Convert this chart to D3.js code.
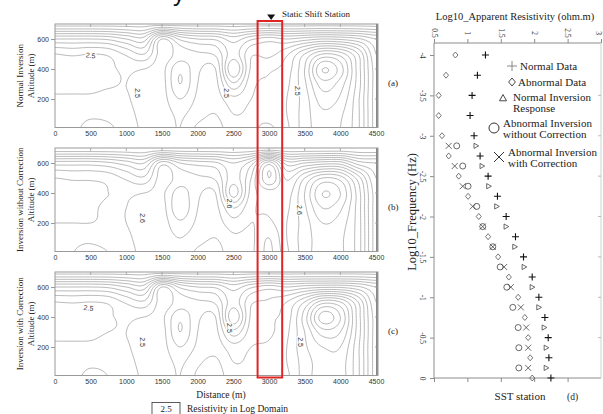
<!DOCTYPE html>
<html><head><meta charset="utf-8">
<script src="https://cdn.jsdelivr.net/npm/d3@7/dist/d3.min.js"></script>
<style>body{margin:0;background:#fff}svg{display:block}</style>
</head><body>
<svg id="c" width="603" height="414"></svg>
<script>
// ---------- data: contour sections ----------
const distanceTicks = [0,500,1000,1500,2000,2500,3000,3500,4000,4500];
const altitudeTicks = [200,400,600];
const gridDistances = [0,250,500,750,1000,1250,1500,1750,2000,2250,2500,2750,3000,3250,3500,3750,4000,4250,4500];
const gridAltitudes = [700,600,500,400,300,200,100,0];
const contourLevels = [1.7,1.8,1.9,2.0,2.1,2.2,2.3,2.4,2.5,2.6,2.7,2.8,2.9,3.0,3.1,3.2,3.3];
const panelTitles = ["Normal Inversion","Inversion without Correction","Inversion with Correction"];
const panelTags = ["(a)","(b)","(c)"];

const gridNormal = [
 [3.35,3.35,3.35,3.35,3.35,3.35,3.35,3.35,3.35,3.35,3.35,3.35,3.35,3.35,3.35,3.35,3.35,3.35,3.35],
 [2.80,2.80,2.80,2.82,2.90,2.95,2.50,2.72,2.80,2.82,2.95,2.82,2.75,2.80,2.75,2.70,2.72,2.78,2.90],
 [2.50,2.52,2.50,2.52,2.62,2.70,2.45,2.55,2.58,2.62,2.85,2.62,2.63,2.52,2.30,2.10,2.15,2.40,2.80],
 [2.45,2.44,2.46,2.48,2.52,2.50,2.47,2.68,2.52,2.50,3.00,2.58,2.52,2.45,2.20,1.80,1.95,2.35,2.75],
 [2.46,2.46,2.47,2.49,2.50,2.46,2.46,2.70,2.50,2.47,2.78,2.53,2.48,2.42,2.22,1.95,2.05,2.35,2.75],
 [2.52,2.52,2.52,2.53,2.51,2.46,2.46,2.60,2.48,2.45,2.57,2.50,2.47,2.40,2.25,2.05,2.12,2.38,2.75],
 [2.56,2.56,2.58,2.57,2.53,2.47,2.45,2.52,2.44,2.40,2.50,2.48,2.46,2.40,2.25,2.12,2.18,2.38,2.75],
 [2.58,2.58,2.63,2.62,2.55,2.48,2.45,2.50,2.38,2.36,2.46,2.48,2.52,2.42,2.25,2.15,2.20,2.38,2.75]
];
const gridUncorrected = [
 [3.40,3.40,3.40,3.40,3.40,3.40,3.40,3.40,3.40,3.40,3.40,3.40,3.40,3.40,3.40,3.40,3.40,3.40,3.40],
 [2.85,2.85,2.85,2.88,2.95,3.00,2.65,2.80,2.85,2.88,3.00,2.85,2.45,2.85,2.80,2.75,2.75,2.95,3.00],
 [2.60,2.62,2.62,2.64,2.72,2.78,2.55,2.65,2.68,2.72,2.95,2.70,2.30,2.62,2.40,2.20,2.25,2.55,2.90],
 [2.55,2.55,2.57,2.60,2.62,2.60,2.58,2.75,2.62,2.60,3.05,2.66,2.55,2.55,2.30,2.00,2.10,2.45,2.85],
 [2.52,2.55,2.58,2.62,2.60,2.56,2.56,2.78,2.60,2.57,2.80,2.62,2.58,2.52,2.32,2.10,2.18,2.45,2.85],
 [2.60,2.60,2.60,2.62,2.60,2.55,2.55,2.68,2.58,2.55,2.66,2.60,2.62,2.50,2.35,2.20,2.25,2.45,2.85],
 [2.68,2.68,2.68,2.66,2.62,2.56,2.55,2.60,2.54,2.50,2.58,2.58,2.70,2.50,2.35,2.25,2.28,2.45,2.85],
 [2.70,2.70,2.72,2.70,2.64,2.57,2.55,2.58,2.48,2.46,2.56,2.58,2.72,2.52,2.35,2.25,2.28,2.45,2.85]
];
const gridCorrected = [
 [3.35,3.35,3.35,3.35,3.35,3.35,3.35,3.35,3.35,3.35,3.35,3.35,3.35,3.35,3.35,3.35,3.35,3.35,3.35],
 [2.80,2.80,2.80,2.82,2.90,2.95,2.50,2.72,2.80,2.82,2.95,2.82,2.75,2.80,2.75,2.72,2.72,2.78,2.90],
 [2.50,2.51,2.50,2.52,2.62,2.68,2.45,2.55,2.58,2.62,2.85,2.62,2.58,2.50,2.30,2.05,2.10,2.40,2.80],
 [2.46,2.45,2.47,2.49,2.52,2.50,2.48,2.68,2.52,2.50,2.98,2.58,2.52,2.45,2.15,1.75,1.90,2.35,2.75],
 [2.47,2.47,2.48,2.50,2.50,2.46,2.46,2.70,2.50,2.47,2.76,2.55,2.52,2.42,2.20,1.95,2.00,2.35,2.75],
 [2.52,2.52,2.52,2.53,2.51,2.46,2.46,2.60,2.48,2.44,2.56,2.50,2.48,2.40,2.22,2.10,2.10,2.38,2.75],
 [2.55,2.56,2.58,2.57,2.53,2.47,2.45,2.52,2.42,2.38,2.50,2.48,2.45,2.40,2.25,2.15,2.15,2.38,2.75],
 [2.58,2.58,2.62,2.60,2.55,2.48,2.45,2.50,2.38,2.35,2.46,2.48,2.45,2.42,2.25,2.15,2.15,2.38,2.75]
];
// contour labels: [distance, altitude, text, angle]
const labelsNormal = [[500,490,"2.5",8],[1150,240,"2.5",90],[2400,240,"2.5",90],[3400,255,"2.5",90]];
const labelsUncorrected = [[1230,233,"2.6",90],[2440,330,"2.6",90],[3420,287,"2.6",90]];
const labelsCorrected = [[470,460,"2.5",8],[1220,233,"2.5",90],[2440,327,"2.5",90],[3440,233,"2.5",90]];
const stationDistance = 3030;
const stationBox = [2840,3185];

// ---------- data: SST station sounding ----------
const freqData = [-4,-3.75,-3.5,-3.25,-3,-2.75,-2.5,-2.25,-2,-1.75,-1.5,-1.25,-1,-0.75,-0.5,-0.25,0];
const normalData = [1.27,1.15,1.07,1.04,1.10,1.19,1.31,1.45,1.58,1.72,1.84,1.97,2.07,2.16,2.21,2.22,2.25];
const abnormalData = [0.82,0.68,0.57,0.57,0.62,0.72,0.87,1.01,1.17,1.31,1.46,1.62,1.76,1.86,1.91,1.94,1.97];
const freqInv = [-2.875,-2.625,-2.375,-2.125,-1.875,-1.625,-1.375,-1.125,-0.875,-0.625,-0.375,-0.125];
const normalInversion = [1.13,1.22,1.32,1.44,1.58,1.71,1.85,1.97,2.07,2.15,2.18,2.18];
const abnormalNoCorr = [0.84,0.93,1.01,1.14,1.23,1.38,1.49,1.59,1.68,1.76,1.77,1.77];
const abnormalCorr = [0.72,0.81,0.93,1.08,1.23,1.38,1.55,1.65,1.80,1.88,1.91,1.91];
const resTicks = [0.5,1,1.5,2,2.5,3];
const freqTicks = [-4,-3.5,-3,-2.5,-2,-1.5,-1,-0.5,0];

// ---------- drawing ----------
const svg = d3.select("#c");
const SERIF = "'Liberation Serif','Times New Roman',serif";
const SANS = "'Liberation Sans',Arial,sans-serif";
const defs = svg.append("defs");

// cut-off title glyph at the very top
svg.append("text").attr("x",173).attr("y",1).attr("font-family",SANS).attr("font-size",24).attr("fill","#111").text("y");

const x = d3.scaleLinear().domain([0,4500]).range([55,376]);

function cr(p0,p1,p2,p3,t){return 0.5*((2*p1)+(-p0+p2)*t+(2*p0-5*p1+4*p2-p3)*t*t+(-p0+3*p1-3*p2+p3)*t*t*t);}
function bicubic(grid,gx,gy){
  const nr=grid.length,nc=grid[0].length;
  const i=Math.min(Math.floor(gx),nc-2), j=Math.min(Math.floor(gy),nr-2);
  const tx=gx-i, ty=gy-j;
  const g=(r,c)=>grid[Math.max(0,Math.min(nr-1,r))][Math.max(0,Math.min(nc-1,c))];
  const rows=[-1,0,1,2].map(dr=>cr(g(j+dr,i-1),g(j+dr,i),g(j+dr,i+1),g(j+dr,i+2),tx));
  return cr(rows[0],rows[1],rows[2],rows[3],ty);
}

const panelGrids=[gridNormal,gridUncorrected,gridCorrected];
const panelLabels=[labelsNormal,labelsUncorrected,labelsCorrected];
const F=10;
panelGrids.forEach((grid,p)=>{
  const off=124*p;
  const y=d3.scaleLinear().domain([0,700]).range([129+off,24+off]);
  const top=y(700), bot=y(10), left=x(0), right=x(4500)+2;
  const clipId="clip"+p;
  defs.append("clipPath").attr("id",clipId).append("rect")
    .attr("x",left).attr("y",top).attr("width",right-left).attr("height",bot-top);
  const nc=gridDistances.length, nr=gridAltitudes.length;
  const fw=(nc-1)*F+1, fh=(nr-1)*F+1;
  const vals=new Float64Array(fw*fh);
  for(let j=0;j<fh;j++)for(let i=0;i<fw;i++)vals[j*fw+i]=bicubic(grid,i/F,j/F);
  const dStep=(gridDistances[1]-gridDistances[0])/F, aStep=(gridAltitudes[0]-gridAltitudes[1])/F;
  const conts=d3.contours().size([fw,fh]).thresholds(contourLevels)(vals);
  const line=d3.line().x(pt=>x((pt[0]-0.5)*dStep)).y(pt=>y(gridAltitudes[0]-(pt[1]-0.5)*aStep));
  const g=svg.append("g").attr("clip-path",`url(#${clipId})`);
  conts.forEach(c=>{
    c.coordinates.forEach(poly=>poly.forEach(ring=>{
      g.append("path").attr("d",line(ring)+"Z").attr("fill","none")
        .attr("stroke","#8a8a8a").attr("stroke-width",0.6);
    }));
  });
  // contour labels
  panelLabels[p].forEach(l=>{
    svg.append("text").attr("transform",`translate(${x(l[0])},${y(l[1])}) rotate(${l[3]})`)
      .attr("text-anchor","middle").attr("dy","0.35em").attr("font-family",SANS).attr("font-size",7)
      .attr("fill","#333").attr("stroke","#fff").attr("stroke-width",2.5).attr("paint-order","stroke").text(l[2]);
  });
  // frame
  svg.append("rect").attr("x",left).attr("y",top).attr("width",right-left).attr("height",bot-top)
    .attr("fill","none").attr("stroke","#9a9a9a").attr("stroke-width",1);
  // inner ticks on top and right
  distanceTicks.slice(1,-1).forEach(d=>{
    svg.append("line").attr("x1",x(d)).attr("x2",x(d)).attr("y1",top).attr("y2",top+3).attr("stroke","#9a9a9a").attr("stroke-width",0.8);
  });
  altitudeTicks.forEach(a=>{
    svg.append("line").attr("x1",right).attr("x2",right-3).attr("y1",y(a)).attr("y2",y(a)).attr("stroke","#9a9a9a").attr("stroke-width",0.8);
  });
  // axes
  const ax=svg.append("g").attr("transform",`translate(0,${bot})`)
    .call(d3.axisBottom(x).tickValues(distanceTicks).tickSize(0).tickPadding(4).tickFormat(d3.format("d")));
  ax.select(".domain").remove();
  ax.selectAll("text").attr("font-family",SANS).attr("font-size",7).attr("fill","#333");
  const ay=svg.append("g").attr("transform",`translate(${left},0)`)
    .call(d3.axisLeft(y).tickValues(altitudeTicks).tickSize(4).tickPadding(2));
  ay.select(".domain").remove();
  ay.selectAll("line").attr("stroke","#9a9a9a");
  ay.selectAll("text").attr("font-family",SANS).attr("font-size",7).attr("fill","#333");
  // titles
  const cy=(top+bot)/2;
  svg.append("text").attr("transform",`translate(23,${cy}) rotate(-90)`).attr("text-anchor","middle")
    .attr("font-family",SERIF).attr("font-size",9).attr("fill","#222").text(panelTitles[p]);
  svg.append("text").attr("transform",`translate(34,${cy}) rotate(-90)`).attr("text-anchor","middle")
    .attr("font-family",SERIF).attr("font-size",9).attr("fill","#222").text("Altitude (m)");
  svg.append("text").attr("x",388).attr("y",cy+10).attr("font-family",SERIF).attr("font-size",9).attr("fill","#222").text(panelTags[p]);
});

// station marker and box
const sx=x(stationDistance);
svg.append("path").attr("d",`M${sx-4},14.5L${sx+4},14.5L${sx},20Z`).attr("fill","#111");
svg.append("text").attr("x",282).attr("y",17).attr("font-family",SERIF).attr("font-size",9).attr("fill","#222").text("Static Shift Station");
svg.append("rect").attr("x",x(stationBox[0])).attr("y",21).attr("width",x(stationBox[1])-x(stationBox[0])).attr("height",356.5)
  .attr("fill","none").attr("stroke","#e02424").attr("stroke-width",2);

svg.append("text").attr("x",221).attr("y",398).attr("text-anchor","middle").attr("font-family",SERIF).attr("font-size",9.5).attr("fill","#222").text("Distance (m)");
svg.append("rect").attr("x",152).attr("y",402.5).attr("width",28).attr("height",14).attr("fill","none").attr("stroke","#333").attr("stroke-width",0.8);
svg.append("text").attr("x",166).attr("y",412).attr("text-anchor","middle").attr("font-family",SERIF).attr("font-size",9).attr("fill","#222").text("2.5");
svg.append("text").attr("x",187).attr("y",412).attr("font-family",SERIF).attr("font-size",9.5).attr("fill","#222").text("Resistivity in Log Domain");

// ---------- right chart ----------
const xr=d3.scaleLinear().domain([0.5,3]).range([434,601]);
const yr=d3.scaleLinear().domain([-4,0]).range([55,378]);
const rTop=43, rBot=yr(0);
const frameC="#8c8c8c";
svg.append("line").attr("x1",xr(0.5)).attr("x2",xr(3)).attr("y1",rTop).attr("y2",rTop).attr("stroke",frameC);
svg.append("line").attr("x1",xr(0.5)).attr("x2",xr(3)).attr("y1",rBot).attr("y2",rBot).attr("stroke",frameC);
svg.append("line").attr("x1",xr(0.5)).attr("x2",xr(0.5)).attr("y1",rTop).attr("y2",rBot).attr("stroke",frameC);
svg.append("line").attr("x1",xr(3)).attr("x2",xr(3)).attr("y1",rTop).attr("y2",rBot).attr("stroke","#d0d0d0");

const at=svg.append("g").attr("transform",`translate(0,${rTop})`).call(d3.axisTop(xr).tickValues(resTicks).tickSize(4).tickFormat(d=>d));
at.select(".domain").remove();
at.selectAll("line").attr("stroke",frameC);
at.selectAll("text").attr("transform",d=>`translate(${d===3?-2.5:0},-10) rotate(90)`).attr("x",0).attr("y",0).attr("dy","0.35em")
  .attr("text-anchor","middle").attr("font-family",SERIF).attr("font-size",7.5).attr("fill","#333");
const al=svg.append("g").attr("transform",`translate(${xr(0.5)},0)`).call(d3.axisLeft(yr).tickValues(freqTicks).tickSize(4).tickFormat(d=>d));
al.select(".domain").remove();
al.selectAll("line").attr("stroke",frameC);
al.selectAll("text").attr("transform","translate(-11,0) rotate(90)").attr("x",0).attr("y",0).attr("dy","0.35em")
  .attr("text-anchor","middle").attr("font-family",SERIF).attr("font-size",7.5).attr("fill","#333");
const ab=svg.append("g").attr("transform",`translate(0,${rBot})`).call(d3.axisBottom(xr).tickValues(resTicks.slice(0,5)).tickSize(4).tickFormat(""));
ab.select(".domain").remove();
ab.selectAll("line").attr("stroke",frameC);
// inner ticks right side
freqTicks.slice(1,-1).forEach(f=>{
  svg.append("line").attr("x1",xr(3)).attr("x2",xr(3)-3).attr("y1",yr(f)).attr("y2",yr(f)).attr("stroke","#bbb");
});

const mk={
  plus:s=>`M${-s},0H${s}M0,${-s}V${s}`,
  diamond:s=>`M0,${-s}L${s*0.85},0L0,${s}L${-s*0.85},0Z`,
  cross:s=>`M${-s},${-s}L${s},${s}M${-s},${s}L${s},${-s}`,
  triRight:s=>`M${-s*0.8},${-s}L${s},0L${-s*0.8},${s}Z`,
  triUp:s=>`M0,${-s}L${s},${s*0.8}L${-s},${s*0.8}Z`
};
function drawSeries(xs,ys,path,stroke,sw){
  svg.append("g").selectAll("path").data(xs).join("path")
    .attr("transform",(d,i)=>`translate(${xr(d)},${yr(ys[i])})`).attr("d",path)
    .attr("fill","none").attr("stroke",stroke).attr("stroke-width",sw);
}
drawSeries(abnormalData,freqData,mk.diamond(3),"#555",0.8);
drawSeries(normalData,freqData,mk.plus(3.5),"#111",1.1);
drawSeries(normalInversion,freqInv,mk.triRight(2.6),"#444",0.8);
drawSeries(abnormalCorr,freqInv,mk.cross(3),"#444",0.8);
svg.append("g").selectAll("circle").data(abnormalNoCorr).join("circle")
  .attr("cx",d=>xr(d)).attr("cy",(d,i)=>yr(freqInv[i])).attr("r",3).attr("fill","none").attr("stroke","#444").attr("stroke-width",0.8);

// legend
const lg=svg.append("g").attr("font-family",SERIF).attr("font-size",11).attr("fill","#222");
lg.append("path").attr("transform","translate(512,66)").attr("d",mk.plus(5)).attr("stroke","#888").attr("stroke-width",1).attr("fill","none");
lg.append("text").attr("x",520).attr("y",70).text("Normal Data");
lg.append("path").attr("transform","translate(512,82)").attr("d",mk.diamond(4)).attr("stroke","#333").attr("stroke-width",0.9).attr("fill","none");
lg.append("text").attr("x",518).attr("y",86).text("Abnormal Data");
lg.append("path").attr("transform","translate(503,98)").attr("d",mk.triUp(3.5)).attr("stroke","#333").attr("stroke-width",0.9).attr("fill","none");
lg.append("text").attr("x",513).attr("y",101).text("Normal Inversion");
lg.append("text").attr("x",513).attr("y",112).text("Response");
lg.append("circle").attr("cx",494).attr("cy",128).attr("r",5).attr("stroke","#333").attr("stroke-width",1).attr("fill","none");
lg.append("text").attr("x",503).attr("y",127).text("Abnormal Inversion");
lg.append("text").attr("x",503).attr("y",138).text("without Correction");
lg.append("path").attr("transform","translate(499,157)").attr("d",mk.cross(5)).attr("stroke","#333").attr("stroke-width",1).attr("fill","none");
lg.append("text").attr("x",508).attr("y",156).text("Abnormal Inversion");
lg.append("text").attr("x",508).attr("y",167).text("with Correction");

svg.append("text").attr("x",515).attr("y",20).attr("text-anchor","middle").attr("font-family",SERIF).attr("font-size",10.5).attr("fill","#222").text("Log10_Apparent Resistivity (ohm.m)");
svg.append("text").attr("transform","translate(416,212) rotate(-90)").attr("text-anchor","middle").attr("font-family",SERIF).attr("font-size",12.5).attr("fill","#222").text("Log10_Frequency (Hz)");
svg.append("text").attr("x",520).attr("y",400).attr("text-anchor","middle").attr("font-family",SERIF).attr("font-size",11).attr("fill","#222").text("SST station");
svg.append("text").attr("x",567).attr("y",400).attr("font-family",SERIF).attr("font-size",9.5).attr("fill","#222").text("(d)");
</script>
</body></html>
